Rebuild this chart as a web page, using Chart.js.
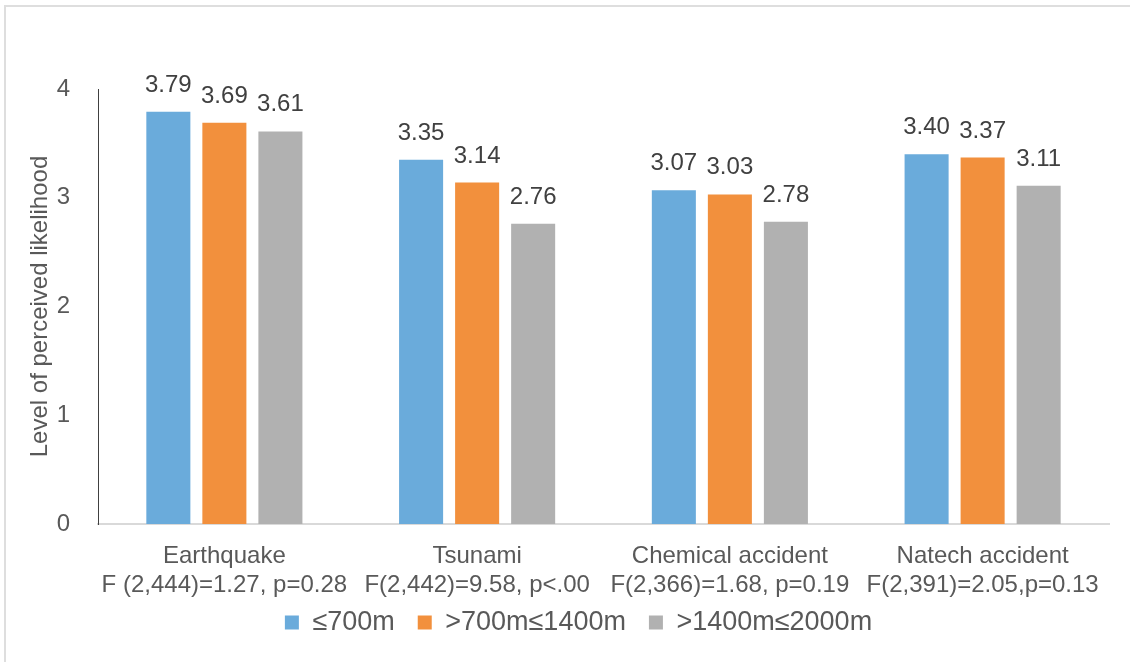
<!DOCTYPE html>
<html>
<head>
<meta charset="utf-8">
<script src="https://cdn.jsdelivr.net/npm/chart.js@4/dist/chart.umd.min.js"></script>
<style>
  html, body { margin: 0; padding: 0; background: #ffffff; }
  #wrap { position: relative; width: 1130px; height: 662px; }
  #frame { position: absolute; left: 4px; top: 5px; right: 0; bottom: 0;
           border-left: 2px solid #dedede; border-top: 2px solid #dedede; pointer-events: none; }
  canvas { position: absolute; left: 0; top: 0; }
</style>
</head>
<body>
<div id="wrap">
  <canvas id="chart" width="1130" height="662"></canvas>
  <div id="frame"></div>
</div>
<script>
// Hazard categories, each with its F-test result on a second line
const categories = [
  ['Earthquake', 'F (2,444)=1.27, p=0.28'],
  ['Tsunami', 'F(2,442)=9.58, p<.00'],
  ['Chemical accident', 'F(2,366)=1.68, p=0.19'],
  ['Natech accident', 'F(2,391)=2.05,p=0.13']
];

// Distance groups
const seriesNames = ['≤700m', '>700m≤1400m', '>1400m≤2000m'];

// Mean level of perceived likelihood per distance group
const near = [3.79, 3.35, 3.07, 3.40];
const middle = [3.69, 3.14, 3.03, 3.37];
const far = [3.61, 2.76, 2.78, 3.11];

const yTicks = [0, 1, 2, 3, 4];

const colors = ['#6aabdb', '#f2903d', '#b1b1b1'];
const FONT = "'Liberation Sans', Arial, sans-serif";

// Value labels above each bar
const valueLabels = {
  id: 'valueLabels',
  afterDatasetsDraw(chart) {
    const ctx = chart.ctx;
    ctx.save();
    ctx.font = '24px ' + FONT;
    ctx.fillStyle = '#404040';
    ctx.textAlign = 'center';
    ctx.textBaseline = 'alphabetic';
    chart.data.datasets.forEach((ds, i) => {
      chart.getDatasetMeta(i).data.forEach((bar, j) => {
        ctx.fillText(ds.data[j].toFixed(2), bar.x, bar.y - 20);
      });
    });
    ctx.restore();
  }
};

// Fixed legend band height; the legend row is then nudged up and right
const legendBox = {
  id: 'legendBox',
  beforeInit(chart) {
    const legend = chart.legend;
    const fit = legend.fit.bind(legend);
    legend.fit = function () { fit(); this.height = 58; };
  },
  afterLayout(chart) {
    const lg = chart.legend;
    lg.left += 24;
    lg.right += 24;
    lg.top -= 18;
    lg.bottom -= 18;
  }
};

new Chart(document.getElementById('chart'), {
  type: 'bar',
  data: {
    labels: categories,
    datasets: [
      { label: seriesNames[0], data: near, backgroundColor: colors[0] },
      { label: seriesNames[1], data: middle, backgroundColor: colors[1] },
      { label: seriesNames[2], data: far, backgroundColor: colors[2] }
    ]
  },
  options: {
    responsive: false,
    animation: false,
    events: [],
    layout: { padding: { top: 89, right: 21, left: 0, bottom: 0 } },
    datasets: {
      bar: { categoryPercentage: 0.665, barPercentage: 0.786 }
    },
    scales: {
      x: {
        grid: { display: false, drawTicks: false },
        border: { display: true, color: '#d9d9d9', width: 2 },
        ticks: {
          color: '#595959',
          font: { family: FONT, size: 24, lineHeight: 1.2 },
          padding: 18,
          maxRotation: 0,
          autoSkip: false
        },
        afterFit(scale) { scale.height = 80; }
      },
      y: {
        min: 0,
        max: 4,
        afterBuildTicks(scale) { scale.ticks = yTicks.map(v => ({ value: v })); },
        grid: { display: false, drawTicks: false },
        border: { display: true, color: '#404040', width: 1 },
        ticks: {
          color: '#595959',
          font: { family: FONT, size: 24 },
          padding: 28
        },
        title: {
          display: true,
          text: 'Level of perceived likelihood',
          color: '#595959',
          font: { family: FONT, size: 24, lineHeight: 1.2 },
          padding: { top: 26, bottom: 0 }
        },
        afterFit(scale) { scale.width = 98; }
      }
    },
    plugins: {
      legend: {
        position: 'bottom',
        labels: {
          color: '#595959',
          font: { family: FONT, size: 27 },
          boxWidth: 14,
          boxHeight: 14,
          padding: 23
        }
      },
      tooltip: { enabled: false }
    }
  },
  plugins: [valueLabels, legendBox]
});
</script>
</body>
</html>
